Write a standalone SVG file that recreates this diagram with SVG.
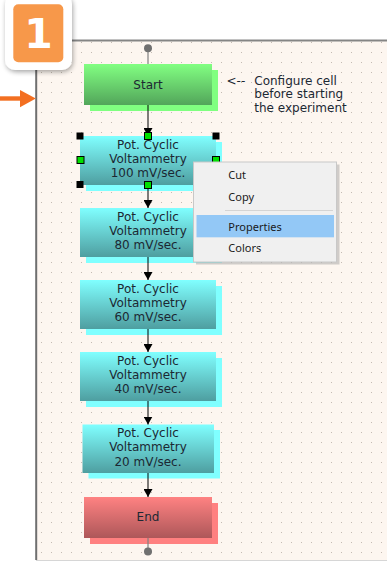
<svg xmlns="http://www.w3.org/2000/svg" width="387" height="563" viewBox="0 0 387 563">
<defs>
<pattern id="grid" x="0" y="0" width="10" height="10" patternUnits="userSpaceOnUse">
<rect x="1" y="2" width="1" height="1" fill="#c4bbb2"/>
</pattern>
<linearGradient id="gCyan" x1="0" y1="0" x2="0" y2="1">
<stop offset="0" stop-color="#80ffff"/>
<stop offset="1" stop-color="#4e9ea0"/>
</linearGradient>
<linearGradient id="gGreen" x1="0" y1="0" x2="0" y2="1">
<stop offset="0" stop-color="#82ff82"/>
<stop offset="1" stop-color="#52a55a"/>
</linearGradient>
<linearGradient id="gRed" x1="0" y1="0" x2="0" y2="1">
<stop offset="0" stop-color="#ff8282"/>
<stop offset="1" stop-color="#ad5759"/>
</linearGradient>
<marker id="arr" markerWidth="8" markerHeight="9" refX="8" refY="4.5" orient="auto" markerUnits="userSpaceOnUse">
<path d="M0,0 L8,4.5 L0,9 Z" fill="#000"/>
</marker>
<filter id="sh" x="-30%" y="-30%" width="160%" height="160%">
<feGaussianBlur in="SourceAlpha" stdDeviation="2.5"/>
<feOffset dx="1" dy="2"/>
<feComponentTransfer><feFuncA type="linear" slope="0.35"/></feComponentTransfer>
<feMerge><feMergeNode/><feMergeNode in="SourceGraphic"/></feMerge>
</filter>
<style>
.nt{font-family:"DejaVu Sans",Verdana,sans-serif;font-size:12px;fill:#1c2833;text-anchor:middle}
.an{font-family:"DejaVu Sans",Verdana,sans-serif;font-size:12px;fill:#1c2833}
.mt{font-family:"Noto Sans","Segoe UI",sans-serif;font-size:11px;fill:#1a1a1a}
.sc{fill:#80ffff}
.sg{fill:#80ff80}
.sr{fill:#ff8080}
.hb{fill:#000}
.hg{fill:#00e000;stroke:#000;stroke-width:1}
.ln{stroke:#000;stroke-width:1;fill:none}
.gl{stroke:#808080;stroke-width:1.2;fill:none}
</style>
</defs>
<rect width="387" height="563" fill="#ffffff"/>
<g id="panel">
<rect x="36" y="40" width="351" height="520" fill="#fdf6f0"/>
<rect x="36" y="40" width="351" height="520" fill="url(#grid)"/>
<line x1="36" y1="40.5" x2="387" y2="40.5" stroke="#858585" stroke-width="2"/>
<line x1="36.2" y1="40" x2="36.2" y2="560" stroke="#6f6f6f" stroke-width="2"/>
<line x1="36" y1="560.5" x2="387" y2="560.5" stroke="#d6d6d6" stroke-width="1"/>
</g>
<g id="node-start">
<rect class="sg" x="90" y="70" width="128" height="41"/>
<rect x="84" y="64" width="128" height="41" fill="url(#gGreen)"/>
<text class="nt" x="148" y="88.5">Start</text>
</g>
<g id="node-100">
<rect class="sc" x="86" y="142" width="136" height="49"/>
<rect x="80" y="136" width="136" height="49" fill="url(#gCyan)"/>
<text class="nt" x="148" y="148.5">Pot. Cyclic</text>
<text class="nt" x="148" y="162.8">Voltammetry</text>
<text class="nt" x="148" y="177">100 mV/sec.</text>
</g>
<g id="node-80">
<rect class="sc" x="86" y="214" width="136" height="49"/>
<rect x="80" y="208" width="136" height="49" fill="url(#gCyan)"/>
<text class="nt" x="148" y="220.5">Pot. Cyclic</text>
<text class="nt" x="148" y="234.8">Voltammetry</text>
<text class="nt" x="148" y="249">80 mV/sec.</text>
</g>
<g id="node-60">
<rect class="sc" x="86" y="286" width="136" height="49"/>
<rect x="80" y="280" width="136" height="49" fill="url(#gCyan)"/>
<text class="nt" x="148" y="292.5">Pot. Cyclic</text>
<text class="nt" x="148" y="306.8">Voltammetry</text>
<text class="nt" x="148" y="321">60 mV/sec.</text>
</g>
<g id="node-40">
<rect class="sc" x="86" y="358" width="136" height="49"/>
<rect x="80" y="352" width="136" height="49" fill="url(#gCyan)"/>
<text class="nt" x="148" y="364.5">Pot. Cyclic</text>
<text class="nt" x="148" y="378.8">Voltammetry</text>
<text class="nt" x="148" y="393">40 mV/sec.</text>
</g>
<g id="node-20">
<rect class="sc" x="88.5" y="430" width="131.5" height="48.5"/>
<rect x="82.5" y="424.5" width="131.5" height="48.5" fill="url(#gCyan)"/>
<text class="nt" x="148" y="437">Pot. Cyclic</text>
<text class="nt" x="148" y="451.3">Voltammetry</text>
<text class="nt" x="148" y="465.5">20 mV/sec.</text>
</g>
<g id="node-end">
<rect class="sr" x="90" y="503" width="128" height="41"/>
<rect x="84" y="497" width="128" height="41" fill="url(#gRed)"/>
<text class="nt" x="148" y="521">End</text>
</g>
<g id="connectors">
<line class="gl" x1="148" y1="50" x2="148" y2="64"/>
<circle cx="148" cy="48.3" r="4" fill="#707070"/>
<line class="ln" x1="148" y1="105" x2="148" y2="136" marker-end="url(#arr)"/>
<line class="ln" x1="148" y1="185" x2="148" y2="208" marker-end="url(#arr)"/>
<line class="ln" x1="148" y1="257" x2="148" y2="280" marker-end="url(#arr)"/>
<line class="ln" x1="148" y1="329" x2="148" y2="352" marker-end="url(#arr)"/>
<line class="ln" x1="148" y1="401" x2="148" y2="424.5" marker-end="url(#arr)"/>
<line class="ln" x1="148" y1="473" x2="148" y2="497" marker-end="url(#arr)"/>
<line class="gl" x1="148" y1="538" x2="148" y2="549"/>
<circle cx="148" cy="551.5" r="4" fill="#707070"/>
</g>
<g id="handles">
<rect class="hb" x="76.5" y="132.5" width="7" height="7"/>
<rect class="hb" x="212.5" y="132.5" width="7" height="7"/>
<rect class="hb" x="76.5" y="181" width="7" height="7"/>
<rect class="hb" x="212.5" y="181" width="7" height="7"/>
<rect class="hg" x="144.5" y="132.5" width="7" height="7"/>
<rect class="hg" x="144.5" y="181.5" width="7" height="7"/>
<rect class="hg" x="77" y="156.5" width="7" height="7"/>
<rect class="hg" x="212.5" y="156.5" width="7" height="7"/>
</g>
<g id="annotation">
<text class="an" x="226.5" y="84.5">&lt;--</text>
<text class="an" x="254.3" y="84.5">Configure cell</text>
<text class="an" x="254.3" y="98">before starting</text>
<text class="an" x="254.3" y="111.7">the experiment</text>
</g>
<g id="context-menu">
<rect x="196" y="164.5" width="143.5" height="100" fill="#9a9a9a" opacity="0.45"/>
<rect x="193.5" y="162" width="143" height="100" fill="#f0f0f0" stroke="#c8c8c8" stroke-width="1"/>
<text class="mt" x="228.3" y="179">Cut</text>
<text class="mt" x="228.3" y="201">Copy</text>
<line x1="225" y1="210.5" x2="333" y2="210.5" stroke="#d4d4d4" stroke-width="1"/>
<rect x="196.5" y="215" width="137.5" height="22.3" fill="#93c8f6"/>
<text class="mt" x="228.3" y="230.5">Properties</text>
<text class="mt" x="228.3" y="252.3">Colors</text>
</g>
<g id="badge">
<rect x="5" y="-6" width="67" height="76" rx="10" fill="#ffffff" filter="url(#sh)"/>
<rect x="13.3" y="4.3" width="50" height="58" rx="5" fill="#f7984a"/>
<text x="38.5" y="48.3" font-family="DejaVu Sans, sans-serif" font-weight="bold" font-size="41" fill="#ffffff" text-anchor="middle">1</text>
</g>
<g id="pointer-arrow">
<rect x="0" y="96.3" width="21" height="4.4" fill="#f36f21"/>
<path d="M20,90 L35.8,98.5 L20,107.3 Z" fill="#f36f21"/>
</g>
</svg>
